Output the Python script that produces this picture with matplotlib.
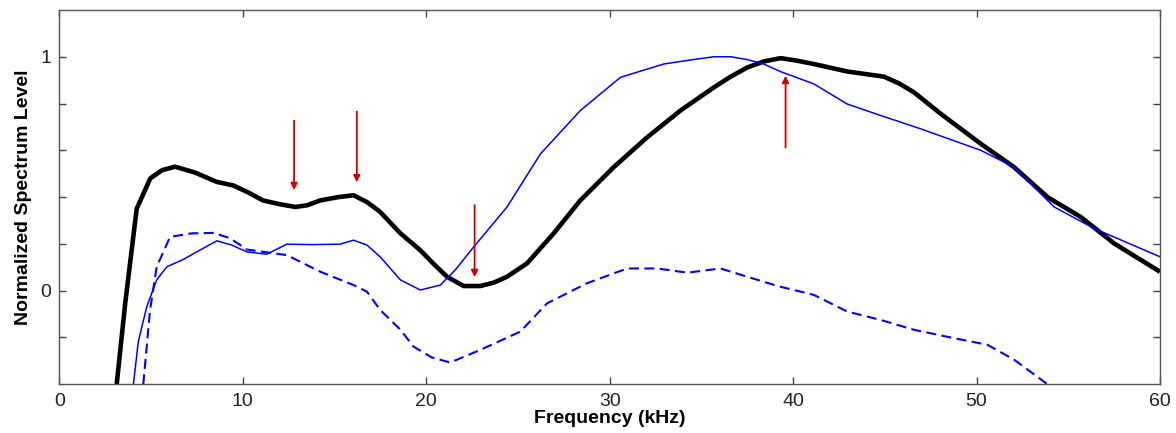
import matplotlib
matplotlib.use("Agg")
import matplotlib.pyplot as plt

plt.rcParams['font.family'] = ['Liberation Sans', 'DejaVu Sans']

# thick black curve
black_f = [3.13, 3.6, 4.22, 4.96, 5.6, 6.31, 7.4, 8.59, 9.48, 10.3, 11.1, 12.0, 12.86, 13.5, 14.23,
           15.2, 16.04, 16.77, 17.49, 18.6, 19.68, 20.4, 21.13, 22.04, 22.95, 23.7, 24.41, 25.5,
           26.95, 28.4, 30.22, 32.05, 33.86, 35.68, 36.6, 37.5, 38.4, 39.32, 40.23, 41.13, 42.95,
           44.95, 45.8, 46.59, 48.05, 50.23, 52.05, 53.87, 55.68, 57.5, 60.0]
black_y = [-0.4, -0.05, 0.35, 0.48, 0.515, 0.53, 0.505, 0.465, 0.45, 0.42, 0.386, 0.37, 0.358, 0.365,
           0.386, 0.4, 0.408, 0.379, 0.337, 0.245, 0.173, 0.115, 0.06, 0.02, 0.02, 0.035, 0.06, 0.117,
           0.245, 0.386, 0.528, 0.656, 0.77, 0.869, 0.915, 0.954, 0.98, 0.994, 0.983, 0.969, 0.937,
           0.915, 0.885, 0.848, 0.756, 0.628, 0.528, 0.4, 0.315, 0.202, 0.081]

# thin blue curve
blue_f = [4.04, 4.31, 4.77, 5.31, 5.86, 6.77, 7.7, 8.59, 9.4, 10.22, 11.31, 12.41, 13.8, 15.31,
          16.04, 16.77, 17.49, 18.6, 19.68, 20.77, 21.6, 22.59, 24.41, 26.23, 28.4, 30.59, 32.95,
          34.3, 35.68, 36.6, 37.5, 38.4, 39.3, 41.13, 42.95, 44.77, 46.95, 50.23, 52.05, 54.23,
          56.41, 60.0]
blue_y = [-0.4, -0.217, -0.068, 0.046, 0.102, 0.134, 0.175, 0.213, 0.195, 0.166, 0.156, 0.199,
          0.197, 0.199, 0.216, 0.195, 0.145, 0.046, 0.003, 0.024, 0.09, 0.187, 0.358, 0.585, 0.77,
          0.912, 0.969, 0.985, 1.0, 1.0, 0.988, 0.969, 0.937, 0.884, 0.798, 0.749, 0.692, 0.6,
          0.528, 0.358, 0.266, 0.145]

# dashed blue curve
dash_f = [4.58, 4.95, 5.31, 6.04, 7.2, 8.4, 9.3, 10.22, 12.41, 14.23, 16.04, 16.77, 17.49, 18.6,
          19.31, 20.3, 21.31, 22.95, 25.13, 26.59, 28.77, 30.95, 32.6, 34.23, 36.04, 38.4, 39.3,
          40.41, 41.13, 42.95, 44.77, 46.59, 48.77, 50.59, 52.05, 53.87]
dash_y = [-0.4, -0.082, 0.102, 0.23, 0.245, 0.247, 0.225, 0.176, 0.152, 0.081, 0.024, -0.004,
          -0.082, -0.167, -0.239, -0.285, -0.307, -0.253, -0.175, -0.054, 0.032, 0.095, 0.095,
          0.077, 0.095, 0.038, 0.017, -0.004, -0.018, -0.089, -0.125, -0.167, -0.203, -0.231,
          -0.295, -0.4]

# red arrows: x, start level, end level
arrow_f = [12.8, 16.22, 22.64, 39.59]
arrow_start = [0.727, 0.766, 0.366, 0.612]
arrow_end = [0.43, 0.463, 0.058, 0.919]

fig = plt.figure(figsize=(11.76, 4.33), dpi=100)
ax = fig.add_axes([0.0504, 0.1125, 0.936, 0.8645])

ax.plot(black_f, black_y, color='black', lw=3.3, solid_capstyle='butt')
ax.plot(blue_f, blue_y, color='#0000ff', lw=1.1)
ax.plot(dash_f, dash_y, color='#0000ff', lw=1.5, dashes=(4.8, 2.6))

for f, s, e in zip(arrow_f, arrow_start, arrow_end):
    ax.annotate('', xy=(f, e), xytext=(f, s),
                arrowprops=dict(arrowstyle='-|>', color='#cc0000', lw=1.3,
                                mutation_scale=10, shrinkA=0, shrinkB=0))

ax.set_xlim(0, 60)
ax.set_ylim(-0.4, 1.2)
ax.set_xticks([0, 10, 20, 30, 40, 50, 60])
ax.set_yticks([-0.2, 0, 0.2, 0.4, 0.6, 0.8, 1.0])
ax.set_yticklabels(['', '0', '', '', '', '', '1'])
ax.tick_params(direction='in', length=5, width=1, colors='#444444', labelsize=14,
               top=True, right=True, labelcolor='#222222', pad=6)
for sp in ax.spines.values():
    sp.set_color('#555555')
    sp.set_linewidth(1)

ax.set_xlabel('Frequency (kHz)', fontsize=14, fontweight='bold', labelpad=0)
ax.set_ylabel('Normalized Spectrum Level', fontsize=14, fontweight='bold', labelpad=6)

fig.savefig('out.png', dpi=100)
